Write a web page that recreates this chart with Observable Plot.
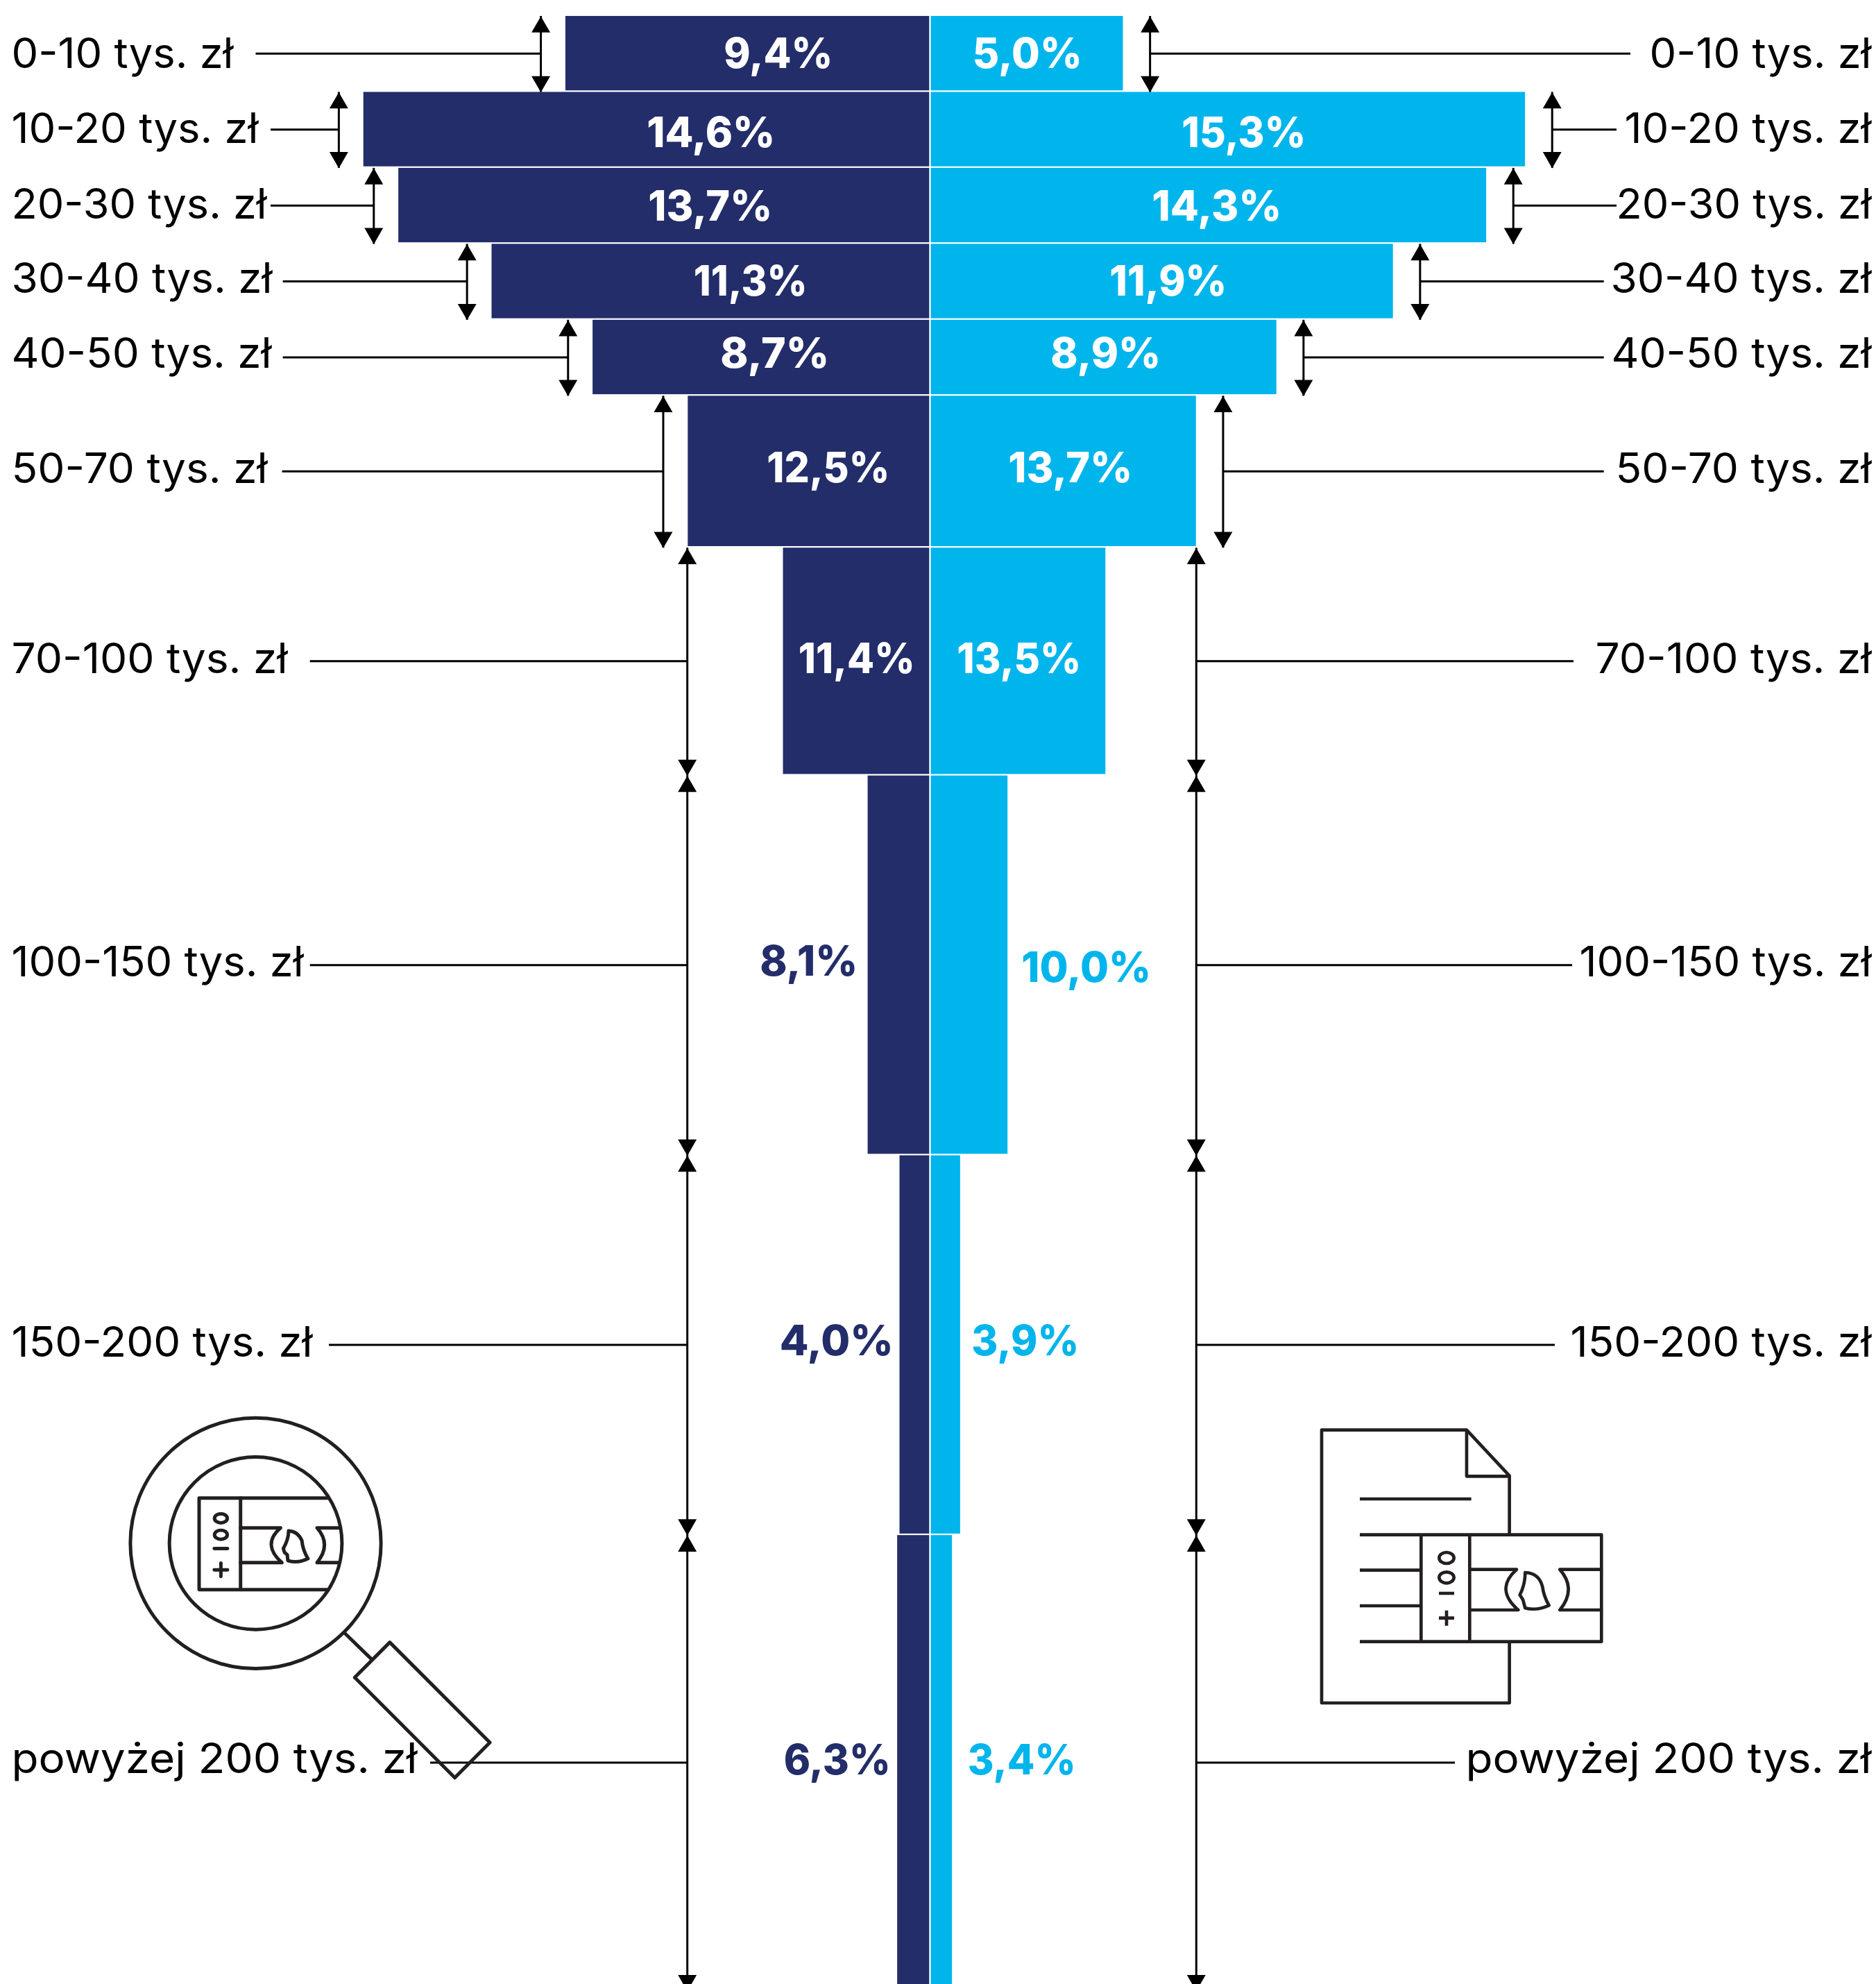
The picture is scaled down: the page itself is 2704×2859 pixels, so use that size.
<!DOCTYPE html>
<html lang="pl">
<head>
<meta charset="utf-8">
<title>Rozkład dochodów</title>
<script src="https://cdn.jsdelivr.net/npm/d3@7"></script>
<script src="https://cdn.jsdelivr.net/npm/@observablehq/plot@0.6"></script>
<style>
  html, body { margin: 0; padding: 0; background: #fff; overflow: hidden; }
  svg { display: block; }
</style>
</head>
<body>
<script>
// Income brackets (thousand zł)
const bins = ["0-10 tys. zł", "10-20 tys. zł", "20-30 tys. zł", "30-40 tys. zł", "40-50 tys. zł",
  "50-70 tys. zł", "70-100 tys. zł", "100-150 tys. zł", "150-200 tys. zł", "powyżej 200 tys. zł"];
const binFrom = [0, 10, 20, 30, 40, 50, 70, 100, 150, 200];
const binTo = [10, 20, 30, 40, 50, 70, 100, 150, 200, 260];
// Printed shares (%)
const leftShare = [9.4, 14.6, 13.7, 11.3, 8.7, 12.5, 11.4, 8.1, 4.0, 6.3];
const rightShare = [5.0, 15.3, 14.3, 11.9, 8.9, 13.7, 13.5, 10.0, 3.9, 3.4];
// Bar length as drawn: share per 10 tys. zł of bracket width
const leftLength = [9.4, 14.6, 13.7, 11.3, 8.7, 6.25, 3.8, 1.62, 0.8, 0.86];
const rightLength = [4.95, 15.3, 14.3, 11.9, 8.9, 6.83, 4.5, 1.98, 0.76, 0.55];

const NAVY = "#232d69", CYAN = "#00b5ec", INK = "#000", ICON = "#231f20";
const FONT = "Inter, 'Open Sans', sans-serif";
const pct = v => v.toFixed(1).replace(".", ",") + "%";

const rows = bins.map((bin, i) => ({
  bin, i,
  from: binFrom[i], to: binTo[i], mid: (binFrom[i] + binTo[i]) / 2,
  left: leftLength[i], right: rightLength[i],
  leftText: pct(leftShare[i]), rightText: pct(rightShare[i]),
  // brace sits just outside its own bar, then stays at the 50-70 bar's edge
  leftGuide: i <= 5 ? -(leftLength[i] + 0.64) : -(leftLength[5] + 0.02),
  rightGuide: i <= 5 ? rightLength[i] + 0.69 : rightLength[5]
}));

const xDomain = [-23.952, 24.334];

// Annotation offsets and fitted text widths (px)
const labelDy = [0.1, -0.9, -1.8, -3.4, -5.1, -3, -3.4, -3.4, -3.4, -5.4];
const leftValueDx = [-220, -317, -318, -260, -225, -148, -107, -176, -136, -135];
const rightValueDx = [139, 451, 412, 342, 252, 201, 127, 224, 136, 131];
const leftValueDy = [0.1, 5.6, 1.2, 0.6, -5.1, -4, -3.4, -4.4, -5.4, -3.4];
const rightValueDy = [0.1, 5.6, 1.2, 0.6, -5.1, -4, -3.4, 4.2, -5.4, -3.4];
const leftLeaderInset = [368.5, 390, 390, 407.6, 407.6, 406.6, 446.7, 446.7, 474, 620];
const rightLeaderInset = [354, 374, 374, 392.3, 392.3, 392.3, 436, 438, 463, 607];
const labelWidth = [320, 356, 368, 376, 375, 369, 398, 421, 434, 585];
const leftValueWidth = [157, 185, 179, 164, 157, 177, 168, 141, 164, 154];
const rightValueWidth = [158, 179, 187, 169, 159, 179, 179, 187, 155, 156];

const headR = 10, headTip = 15.5, LINE = 3;
const note = {fontFamily: FONT, fontSize: 60, lineAnchor: "middle"};

function perRow(fn) { return rows.map(r => fn(r, r.i)); }

// Stretch a text mark's glyphs to the width measured in the picture
const fit = w => (index, scales, values, dimensions, context, next) => {
  const g = next(index, scales, values, dimensions, context);
  g.querySelectorAll("text").forEach(t => {
    t.setAttribute("textLength", w);
    t.setAttribute("lengthAdjust", "spacingAndGlyphs");
  });
  return g;
};

function magnifier() {
  return d3.create("svg:g")
    .attr("transform", "translate(150,2000) scale(0.3827)")
    .attr("fill", "none").attr("stroke", ICON).attr("stroke-width", 13)
    .attr("stroke-linejoin", "round").attr("stroke-linecap", "round")
    .html(`
      <circle cx="571" cy="585" r="472"/>
      <circle cx="571" cy="585" r="325"/>
      <path d="M908 925L1008 1022"/>
      <path d="M1076 958L1453 1335L1321 1468L944 1090Z"/>
      <path d="M845 415H358V760H845"/>
      <path d="M514 415V760"/>
      <path d="M514 527H665Q592 590 670 658H514"/>
      <path d="M885 527H802Q858 590 802 658H885"/>
      <path d="M695 538Q730 540 745 575Q748 610 768 643Q730 662 692 650L690 628L680 620L675 605Q695 570 695 538Z"/>
      <ellipse cx="440" cy="491" rx="24" ry="17"/>
      <ellipse cx="440" cy="553" rx="24" ry="17"/>
      <path d="M415 605H465M415 685H465M440 660V710"/>`)
    .node();
}

function documentIcon() {
  return d3.create("svg:g")
    .attr("transform", "translate(1880,2040) scale(0.3333)")
    .attr("fill", "none").attr("stroke", ICON).attr("stroke-width", 14)
    .attr("stroke-linejoin", "round")
    .html(`
      <path d="M887 515V260L702 62H75V1242H887V980"/>
      <path d="M702 62V262H887"/>
      <path d="M240 360H722"/>
      <path d="M240 515H1285V977H240"/>
      <path d="M240 668H505M240 822H505"/>
      <path d="M505 515V977M715 515V977"/>
      <path d="M715 665H918Q822 750 925 840H715"/>
      <path d="M1280 665H1105Q1179 750 1105 840H1280"/>
      <path d="M955 678Q1015 680 1030 740Q1035 780 1058 820Q1005 845 955 832L948 805L945 795L932 775Q955 730 955 678Z"/>
      <ellipse cx="615" cy="615" rx="32" ry="24"/>
      <ellipse cx="615" cy="700" rx="32" ry="24"/>
      <path d="M582 768H648M582 875H648M615 842V908"/>`)
    .node();
}

const chart = Plot.plot({
  width: 2704,
  height: 2859,
  margin: 0,
  style: {fontFamily: FONT, background: "#fff"},
  x: {domain: xDomain, range: [0, 2704], axis: null},
  y: {domain: [-2.1, 259.1], range: [0, 2859], axis: null},
  marks: [
    // bars
    Plot.rect(rows, {x1: d => -d.left, x2: () => 0, y1: "from", y2: "to", fill: NAVY, insetRight: 2, insetBottom: 2.2}),
    Plot.rect(rows, {x1: () => 0, x2: "right", y1: "from", y2: "to", fill: CYAN, insetLeft: 0.3, insetBottom: 2.2}),

    // double-headed braces
    Plot.ruleX(rows, {x: "leftGuide", y1: "from", y2: "to", stroke: INK, strokeWidth: LINE}),
    Plot.ruleX(rows, {x: "rightGuide", y1: "from", y2: "to", stroke: INK, strokeWidth: LINE}),
    ...["leftGuide", "rightGuide"].flatMap(x => [
      Plot.dot(rows, {x, y: "from", symbol: "triangle", r: headR, fill: INK, stroke: "none", dy: headTip}),
      Plot.dot(rows, {x, y: "to", symbol: "triangle", r: headR, rotate: 180, fill: INK, stroke: "none", dy: -headTip})
    ]),

    // leaders
    ...perRow((r, i) => Plot.ruleY([r], {y: "mid", x1: () => xDomain[0], x2: "leftGuide", insetLeft: leftLeaderInset[i], dy: -1, stroke: INK, strokeWidth: LINE})),
    ...perRow((r, i) => Plot.ruleY([r], {y: "mid", x1: "rightGuide", x2: () => xDomain[1], insetRight: rightLeaderInset[i], dy: -1, stroke: INK, strokeWidth: LINE})),

    // bracket labels
    ...perRow((r, i) => Plot.text([r], {...note, y: "mid", text: "bin", frameAnchor: "left", textAnchor: "start", dx: 16, dy: labelDy[i], fill: INK, render: fit(labelWidth[i])})),
    ...perRow((r, i) => Plot.text([r], {...note, y: "mid", text: "bin", frameAnchor: "right", textAnchor: "end", dx: -7, dy: labelDy[i], fill: INK, render: fit(labelWidth[i])})),

    // value labels: white on the wide bars, series colour beside the narrow ones
    ...perRow((r, i) => Plot.text([r], {...note, x: () => 0, y: "mid", text: "leftText", textAnchor: "middle", fontWeight: 800, dx: leftValueDx[i], dy: leftValueDy[i], fill: i >= 7 ? NAVY : "#fff", render: fit(leftValueWidth[i])})),
    ...perRow((r, i) => Plot.text([r], {...note, x: () => 0, y: "mid", text: "rightText", textAnchor: "middle", fontWeight: 800, dx: rightValueDx[i], dy: rightValueDy[i], fill: i >= 7 ? CYAN : "#fff", render: fit(rightValueWidth[i])})),

    // decorative icons
    magnifier,
    documentIcon
  ]
});
document.body.append(chart);
</script>
</body>
</html>
